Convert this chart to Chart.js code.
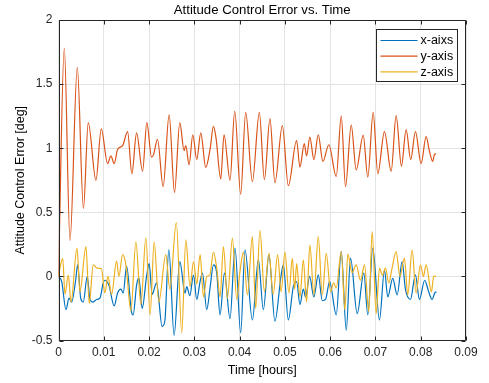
<!DOCTYPE html>
<html>
<head>
<meta charset="utf-8">
<script src="https://cdn.jsdelivr.net/npm/chart.js@4/dist/chart.umd.min.js"></script>
<style>
  html, body { margin: 0; padding: 0; background: #ffffff; }
  #wrap { width: 489px; height: 383px; position: relative; }
</style>
</head>
<body>
<div id="wrap"><canvas id="c" width="489" height="383"></canvas></div>
<script>
// Time stamps (hours) and error values (deg) for each body axis
const xTimes = [0, 0.00071, 0.00165, 0.00232, 0.00291, 0.00379, 0.00423, 0.00490, 0.00547, 0.00635,
  0.00695, 0.00761, 0.00842, 0.00915, 0.00988, 0.01025, 0.01114, 0.01230, 0.01305, 0.01378,
  0.01429, 0.01504, 0.01614, 0.01649, 0.01724, 0.01775, 0.01848, 0.01945, 0.02002, 0.02068,
  0.02165, 0.02289, 0.02348, 0.02437, 0.02553, 0.02679, 0.02796, 0.02833, 0.02900, 0.02981,
  0.03054, 0.03127, 0.03180, 0.03274, 0.03347, 0.03422, 0.03495, 0.03568, 0.03665, 0.03788,
  0.03898, 0.04024, 0.04119, 0.04282, 0.04414, 0.04525, 0.04648, 0.04780, 0.04913, 0.04966,
  0.05076, 0.05186, 0.05259, 0.05332, 0.05407, 0.05457, 0.05546, 0.05640, 0.05737, 0.05826,
  0.05898, 0.05987, 0.06134, 0.06245, 0.06355, 0.06450, 0.06597, 0.06743, 0.06831, 0.06941,
  0.07089, 0.07199, 0.07272, 0.07382, 0.07479, 0.07590, 0.07662, 0.07773, 0.07883, 0.07971,
  0.08088, 0.08176, 0.08251, 0.08308, 0.08346];
const xValues = [0, -0.04, -0.26, -0.17, -0.20, -0.03, 0.09, -0.17, -0.20, 0.0,
  -0.18, -0.20, -0.18, -0.17, -0.05, -0.03, -0.07, -0.23, -0.13, -0.10,
  -0.13, 0.08, -0.28, -0.30, -0.07, -0.01, -0.25, 0.0, 0.10, -0.14,
  -0.05, -0.39, -0.35, 0.21, -0.46, 0.115, -0.13, -0.08, -0.15, 0.01,
  -0.18, -0.04, 0.025, -0.26, -0.09, 0.09, 0.025, -0.30, 0.025, -0.33,
  0.22, -0.44, 0.207, -0.34, 0.13, -0.26, 0.168, -0.35, 0.0, 0.09,
  -0.34, -0.08, -0.04, -0.22, -0.10, -0.16, 0.0, -0.16, 0.012, -0.19,
  -0.18, -0.04, -0.30, 0.194, -0.42, 0.142, -0.29, 0.025, -0.30, 0.22,
  -0.34, 0.05, -0.16, -0.015, -0.145, 0.116, -0.10, -0.18, 0.012, -0.18,
  -0.03, -0.12, -0.18, -0.13, -0.12];

const yTimes = [0, 0.00128, 0.00254, 0.00415, 0.00551, 0.00657, 0.00827, 0.00944, 0.01085, 0.01158,
  0.01230, 0.01305, 0.01416, 0.01526, 0.01621, 0.01724, 0.01857, 0.01951, 0.02055, 0.02099,
  0.02187, 0.02311, 0.02443, 0.02562, 0.02679, 0.02774, 0.02811, 0.02884, 0.02966, 0.03054,
  0.03142, 0.03252, 0.03347, 0.03422, 0.03479, 0.03583, 0.03656, 0.03788, 0.03892, 0.04024,
  0.04134, 0.04282, 0.04436, 0.04547, 0.04670, 0.04780, 0.04944, 0.05076, 0.05259, 0.05332,
  0.05429, 0.05479, 0.05552, 0.05640, 0.05737, 0.05839, 0.05971, 0.06134, 0.06245, 0.06339,
  0.06465, 0.06575, 0.06730, 0.06831, 0.06950, 0.07052, 0.07199, 0.07347, 0.07457, 0.07574,
  0.07678, 0.07779, 0.07883, 0.08009, 0.08119, 0.08191, 0.08264, 0.08302, 0.08339];
const yValues = [0, 1.78, 0.28, 1.63, 0.53, 1.20, 0.75, 1.15, 0.88, 0.94,
  0.88, 0.99, 1.02, 1.13, 0.80, 1.12, 0.82, 1.20, 0.93, 0.95,
  1.07, 0.70, 1.26, 0.655, 1.20, 0.98, 1.02, 0.87, 1.105, 0.91,
  1.12, 0.85, 0.99, 1.17, 1.08, 0.76, 1.105, 0.75, 1.29, 0.64,
  1.28, 0.74, 1.28, 0.754, 1.23, 0.73, 1.176, 0.707, 1.06, 0.853,
  1.035, 0.94, 1.087, 0.91, 1.105, 0.897, 1.027, 0.78, 1.25, 0.70,
  1.18, 0.83, 1.10, 0.775, 1.28, 0.80, 1.13, 0.82, 1.254, 0.86,
  1.145, 0.91, 1.13, 0.88, 1.09, 0.98, 0.897, 0.95, 0.957];

const zTimes = [0, 0.00093, 0.00143, 0.00216, 0.00276, 0.00408, 0.00474, 0.00606, 0.00679, 0.00767,
  0.00849, 0.00948, 0.01025, 0.01091, 0.01173, 0.01283, 0.01334, 0.01416, 0.01488, 0.01599,
  0.01709, 0.01819, 0.01929, 0.02024, 0.02112, 0.02216, 0.02370, 0.02459, 0.02602, 0.02723,
  0.02811, 0.02906, 0.02981, 0.03054, 0.03127, 0.03202, 0.03274, 0.03341, 0.03422, 0.03495,
  0.03568, 0.03643, 0.03731, 0.03841, 0.03936, 0.04002, 0.04084, 0.04172, 0.04282, 0.04355,
  0.04450, 0.04547, 0.04648, 0.04741, 0.04840, 0.04917, 0.05001, 0.05089, 0.05164, 0.05215,
  0.05259, 0.05332, 0.05407, 0.05479, 0.05552, 0.05640, 0.05737, 0.05826, 0.05914, 0.06009,
  0.06075, 0.06134, 0.06245, 0.06324, 0.06390, 0.06483, 0.06575, 0.06670, 0.06758, 0.06853,
  0.06928, 0.07016, 0.07089, 0.07155, 0.07221, 0.07294, 0.07365, 0.07457, 0.07541, 0.07640,
  0.07713, 0.07810, 0.07898, 0.07993, 0.08059, 0.08119, 0.08236, 0.08286, 0.08339];
const zValues = [0.01, 0.14, -0.14, 0.01, -0.20, 0.22, -0.12, 0.233, -0.21, 0.09,
  0.065, 0.06, -0.13, 0.0, -0.14, 0.12, 0.0, 0.17, 0.09, -0.27,
  0.27, -0.22, 0.30, -0.30, 0.27, -0.20, 0.17, -0.10, 0.42, -0.44,
  0.285, -0.08, 0.115, -0.06, 0.17, -0.16, 0.0, 0.01, 0.19, 0.064,
  -0.16, 0.233, -0.17, 0.298, -0.18, 0.02, 0.19, -0.145, 0.31, -0.25,
  0.36, -0.12, 0.18, -0.14, 0.17, -0.12, 0.19, -0.13, 0.14, -0.10,
  0.10, -0.16, 0.128, -0.20, 0.245, -0.145, 0.31, -0.145, 0.18, -0.12,
  -0.05, -0.09, 0.194, -0.26, 0.174, 0.03, 0.09, -0.03, 0.09, -0.275,
  0.35, -0.29, 0.064, 0.01, 0.064, -0.05, 0.06, 0.194, 0.0, 0.142,
  -0.145, 0.207, -0.13, 0.09, 0.0, 0.09, -0.12, 0.0, 0.0];

const seriesNames = ['x-aixs', 'y-axis', 'z-axis'];
const seriesColors = ['#0072BD', '#D95319', '#EDB120'];
const xTickValues = [0, 0.01, 0.02, 0.03, 0.04, 0.05, 0.06, 0.07, 0.08, 0.09];
const yTickValues = [-0.5, 0, 0.5, 1, 1.5, 2];
const chartTitle = 'Attitude Control Error vs. Time';

const FONT = '"Liberation Sans", Arial, Helvetica, sans-serif';
const INK = '#262626';

function toPoints(times, values) {
  return times.map((t, i) => ({ x: t, y: values[i] }));
}

// Box around the axes, inward tick marks on all four sides, title and legend
const axesBoxPlugin = {
  id: 'axesBox',
  afterDatasetsDraw(chart) {
    const { ctx, chartArea: a, scales } = chart;
    const L = Math.round(a.left) + 0.5, R = Math.round(a.right) - 0.5;
    const T = Math.round(a.top) + 0.5, B = Math.round(a.bottom) - 0.5;
    ctx.save();
    ctx.strokeStyle = INK;
    ctx.lineWidth = 1;
    ctx.beginPath();
    ctx.rect(L, T, R - L, B - T);
    const tl = 4;
    xTickValues.forEach(v => {
      const px = Math.round(scales.x.getPixelForValue(v)) + 0.5;
      ctx.moveTo(px, B); ctx.lineTo(px, B - tl);
      ctx.moveTo(px, T); ctx.lineTo(px, T + tl);
    });
    yTickValues.forEach(v => {
      const py = Math.round(scales.y.getPixelForValue(v)) + 0.5;
      ctx.moveTo(L, py); ctx.lineTo(L + tl, py);
      ctx.moveTo(R, py); ctx.lineTo(R - tl, py);
    });
    ctx.stroke();

    // title, centred over the plot area
    ctx.fillStyle = '#000000';
    ctx.font = '13.2px ' + FONT;
    ctx.textAlign = 'center';
    ctx.textBaseline = 'middle';
    ctx.fillText(chartTitle, (a.left + a.right) / 2, 10.5);

    // legend
    const lx = 376.5, ly = 29.5, lw = 81, lh = 52;
    ctx.fillStyle = '#ffffff';
    ctx.fillRect(lx, ly, lw, lh);
    ctx.strokeStyle = INK;
    ctx.lineWidth = 1;
    ctx.strokeRect(lx, ly, lw, lh);
    ctx.font = '12.5px ' + FONT;
    ctx.textAlign = 'left';
    seriesNames.forEach((name, i) => {
      const y = ly + 11 + i * 15.7;
      ctx.strokeStyle = seriesColors[i];
      ctx.lineWidth = 1.2;
      ctx.beginPath();
      ctx.moveTo(lx + 4, y);
      ctx.lineTo(lx + 41, y);
      ctx.stroke();
      ctx.fillStyle = '#000000';
      ctx.fillText(name, lx + 44, y + 0.5);
    });
    ctx.restore();
  }
};

const datasets = [
  { label: seriesNames[0], data: toPoints(xTimes, xValues), borderColor: seriesColors[0], order: 2 },
  { label: seriesNames[1], data: toPoints(yTimes, yValues), borderColor: seriesColors[1], order: 1 },
  { label: seriesNames[2], data: toPoints(zTimes, zValues), borderColor: seriesColors[2], order: 0 }
].map(d => Object.assign(d, {
  borderWidth: 1.2,
  pointRadius: 0,
  fill: false,
  cubicInterpolationMode: 'monotone'
}));

new Chart(document.getElementById('c'), {
  type: 'line',
  data: { datasets },
  options: {
    responsive: false,
    animation: false,
    devicePixelRatio: 1,
    layout: { padding: { left: 0, right: 23, top: 20, bottom: 0 } },
    plugins: {
      legend: { display: false },
      tooltip: { enabled: false },
      title: { display: false }
    },
    scales: {
      x: {
        type: 'linear',
        min: 0,
        max: 0.09,
        afterFit(s) { s.height = 42.5; },
        afterBuildTicks(s) { s.ticks = xTickValues.map(v => ({ value: v })); },
        grid: { color: '#e3e3e3', drawTicks: false, lineWidth: 1 },
        border: { display: false },
        ticks: {
          color: INK,
          font: { family: FONT, size: 12 },
          padding: 5,
          maxRotation: 0,
          callback: v => String(+v.toFixed(2))
        },
        title: {
          display: true,
          text: 'Time [hours]',
          color: '#000000',
          font: { family: FONT, size: 12.5 },
          padding: { top: 0, bottom: 5 }
        }
      },
      y: {
        type: 'linear',
        min: -0.5,
        max: 2,
        afterFit(s) { s.width = 58.5; },
        afterBuildTicks(s) { s.ticks = yTickValues.map(v => ({ value: v })); },
        grid: { color: '#e3e3e3', drawTicks: false, lineWidth: 1 },
        border: { display: false },
        ticks: {
          color: INK,
          font: { family: FONT, size: 12 },
          padding: 6,
          callback: v => String(+v.toFixed(2))
        },
        title: {
          display: true,
          text: 'Attitude Control Error [deg]',
          color: '#000000',
          font: { family: FONT, size: 12.5 },
          padding: { top: 13, bottom: 0 }
        }
      }
    }
  },
  plugins: [axesBoxPlugin]
});
</script>
</body>
</html>
